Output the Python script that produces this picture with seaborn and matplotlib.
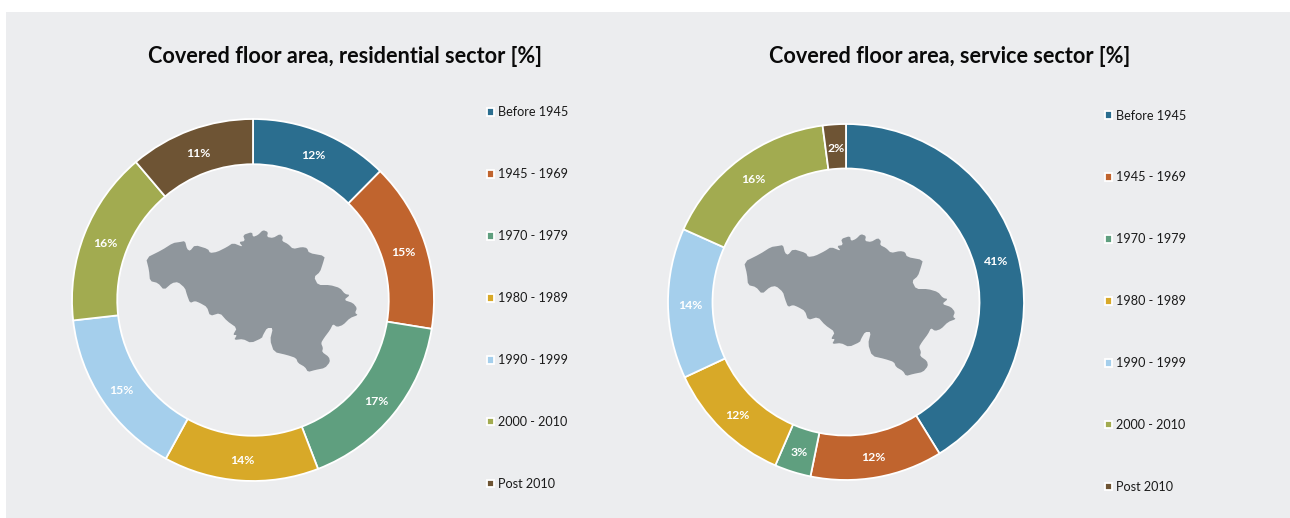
import numpy as np
import pandas as pd
import matplotlib
matplotlib.use('Agg')
import matplotlib.pyplot as plt
from matplotlib.patches import Polygon, Rectangle
import seaborn as sns

# Data (slice angles, the labels are these values rounded)
periods = ['Before 1945', '1945 - 1969', '1970 - 1979', '1980 - 1989',
           '1990 - 1999', '2000 - 2010', 'Post 2010']
residential = [12.4, 15.15, 16.6, 13.85, 15.2, 15.6, 11.2]
service = [41.2, 12.0, 3.3, 11.55, 13.65, 16.2, 2.1]
colours = ['#2b6e8f', '#c0642e', '#5f9f7f', '#d8a928', '#a5cfec', '#a2ab50', '#6e5434']

# Outline of Belgium (image pixels of the left map)
map_x = [146, 162, 173, 180, 185, 187, 190, 195, 208, 210, 217, 227, 233, 243, 239, 245, 243, 252, 253,
         258, 263, 268, 267, 273, 280, 283, 282, 288, 293, 302, 307, 309, 325, 323, 320, 314, 318, 330,
         340, 345, 350, 344, 353, 357, 355, 358, 350, 343, 337, 333, 330, 324, 321, 323, 322, 329, 330,
         325, 315, 308, 305, 298, 296, 287, 274, 270, 273, 267, 263, 262, 251, 243, 234, 237, 233, 237,
         227, 220, 210, 207, 200, 195, 190, 187, 185, 178, 172, 164, 158, 150, 149]
map_y = [258, 250, 243, 242, 241, 249, 251, 245, 249, 253, 252, 247, 243, 247, 242, 241, 235, 232, 237,
         235, 230, 232, 237, 238, 234, 237, 241, 244, 249, 247, 248, 253, 256, 263, 272, 277, 285, 285,
         288, 294, 295, 300, 303, 308, 313, 315, 318, 325, 327, 324, 330, 338, 343, 348, 352, 357, 362,
         368, 370, 372, 367, 363, 358, 355, 352, 340, 328, 328, 335, 338, 343, 339, 340, 335, 335, 328,
         321, 313, 316, 307, 303, 301, 303, 295, 288, 282, 283, 290, 283, 281, 270]

pies = [
    {'values': residential, 'cx': 253, 'cy': 300, 'r': 181, 'title': 'Covered floor area, residential sector [%]',
     'tx': 345, 'lx': 487, 'ly': 106.5, 'dx': 0, 'dy': 0},
    {'values': service, 'cx': 846, 'cy': 302, 'r': 178, 'title': 'Covered floor area, service sector [%]',
     'tx': 950, 'lx': 1105, 'ly': 109.5, 'dx': 598, 'dy': 4},
]

W, H = 1290, 518
bg = '#ecedef'


def round_corners(xy):
    # one pass of corner cutting, the traced outline is a bit too sharp
    nxt = np.roll(xy, -1, axis=0)
    return np.column_stack([0.8 * xy + 0.2 * nxt, 0.2 * xy + 0.8 * nxt]).reshape(-1, 2)


sns.set_theme(style='white')
plt.rcParams['font.family'] = ['Lato', 'DejaVu Sans']

fig = plt.figure(figsize=(W / 100, H / 100), dpi=100, facecolor='white')

# full figure axes in pixels, for the grey panel and the maps
base = fig.add_axes([0, 0, 1, 1])
base.set_xlim(0, W)
base.set_ylim(H, 0)
base.axis('off')
base.add_patch(Rectangle((6, 12), W - 6, H - 12, facecolor=bg, edgecolor='none'))

palette = sns.color_palette(colours)

for p in pies:
    m = 4  # small margin so the white edge is not clipped
    size = (p['r'] + m) * 2
    ax = fig.add_axes([(p['cx'] - p['r'] - m) / W, 1 - (p['cy'] + p['r'] + m) / H, size / W, size / H])
    ax.patch.set_alpha(0)
    wedges, _, autotexts = ax.pie(
        p['values'], colors=palette, startangle=90, counterclock=False, radius=1,
        autopct='%.0f%%', pctdistance=0.875,
        wedgeprops={'width': 0.25, 'edgecolor': 'white', 'linewidth': 1.3},
        textprops={'color': 'white', 'fontsize': 8.8, 'fontweight': 'bold'})
    for t in autotexts:
        t.set_y(t.get_position()[1] - 0.012)
    lim = (p['r'] + m) / p['r']
    ax.set_xlim(-lim, lim)
    ax.set_ylim(-lim, lim)

    xy = np.column_stack([np.array(map_x) + p['dx'], np.array(map_y) + p['dy']])
    base.add_patch(Polygon(round_corners(xy), closed=True, facecolor='#8f969c', edgecolor='none'))

    fig.text(p['tx'] / W, 1 - 56.5 / H, p['title'], ha='center', va='center',
             fontsize=15.6, fontweight='bold', color='#0a0a0a')

    ax.legend(wedges, periods, loc='upper left', bbox_to_anchor=(p['lx'] / W, 1 - p['ly'] / H),
              bbox_transform=fig.transFigure, frameon=False, fontsize=9.1, labelcolor='#1a1a1a',
              handlelength=0.55, handleheight=0.55, handletextpad=0.33, labelspacing=3.95,
              borderpad=0, borderaxespad=0)

fig.savefig('out.png', dpi=100, facecolor=fig.get_facecolor())
